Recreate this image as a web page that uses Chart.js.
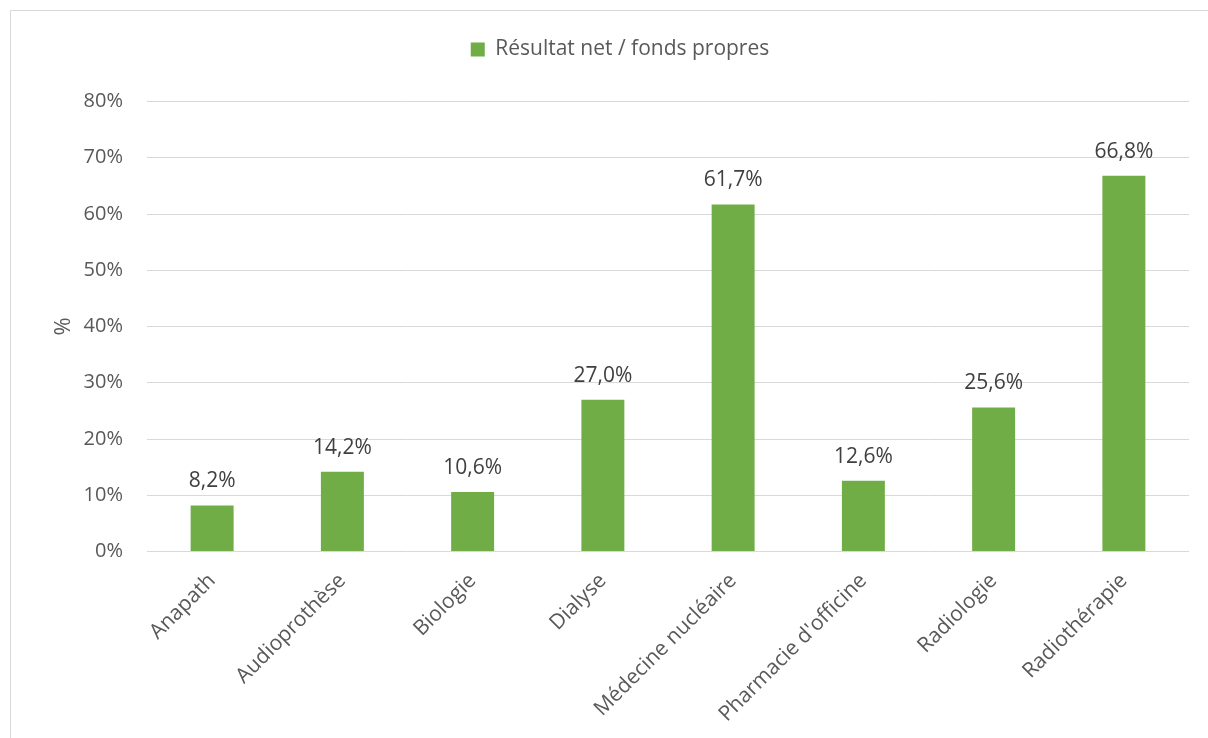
<!DOCTYPE html>
<html>
<head>
<meta charset="utf-8">
<script src="https://cdn.jsdelivr.net/npm/chart.js@4"></script>
<style>
  html, body { margin: 0; padding: 0; background: #fff; overflow: hidden; }
  #frame { position: absolute; left: 10px; top: 10px; width: 1400px; height: 900px; border: 1px solid #d9d9d9; }
  #wrap { position: absolute; left: 0; top: 0; width: 1208px; height: 738px; }
</style>
</head>
<body>
<div id="frame"></div>
<div id="wrap"><canvas id="chart"></canvas></div>
<script>
const categories = ['Anapath', 'Audioprothèse', 'Biologie', 'Dialyse', 'Médecine nucléaire', "Pharmacie d'officine", 'Radiologie', 'Radiothérapie'];
const resultatNet = [8.2, 14.2, 10.6, 27.0, 61.7, 12.6, 25.6, 66.8];
const yTicks = [0, 10, 20, 30, 40, 50, 60, 70, 80];
const seriesLabel = 'Résultat net / fonds propres';

const FONT = "'Open Sans', 'DejaVu Sans', sans-serif";
const fmtPct = v => v.toFixed(1).replace('.', ',') + '%';

// legend box taller than its content so the plot starts lower
const legendHeight = {
  id: 'legendHeight',
  beforeInit(chart) {
    const fit = chart.legend.fit;
    chart.legend.fit = function () {
      fit.bind(chart.legend)();
      this.height = 101.5;
    };
  }
};

const barLabels = {
  id: 'barLabels',
  afterDatasetsDraw(chart) {
    const ctx = chart.ctx;
    const meta = chart.getDatasetMeta(0);
    ctx.save();
    ctx.font = '21px ' + FONT;
    ctx.fillStyle = '#404040';
    ctx.textAlign = 'center';
    ctx.textBaseline = 'middle';
    meta.data.forEach((bar, i) => {
      ctx.fillText(fmtPct(resultatNet[i]), bar.x, bar.y - 24);
    });
    ctx.restore();
  }
};

new Chart(document.getElementById('chart'), {
  type: 'bar',
  data: {
    labels: categories,
    datasets: [{
      label: seriesLabel,
      data: resultatNet,
      backgroundColor: '#70ad47',
      borderWidth: 0,
      barPercentage: 0.33,
      categoryPercentage: 1
    }]
  },
  options: {
    responsive: true,
    maintainAspectRatio: false,
    animation: false,
    layout: { padding: { left: 51, right: 19, top: 0, bottom: 0 } },
    plugins: {
      legend: {
        position: 'top',
        labels: {
          color: '#595959',
          font: { family: FONT, size: 21 },
          boxWidth: 14,
          boxHeight: 14,
          padding: 39
        }
      },
      tooltip: { enabled: false }
    },
    scales: {
      x: {
        grid: { display: false },
        border: { display: false },
        ticks: {
          color: '#595959',
          font: { family: FONT, size: 21 },
          maxRotation: 45,
          minRotation: 45,
          padding: 9
        },
        afterFit: s => { s.height = 738 - 551.5; }
      },
      y: {
        min: 0,
        max: 80,
        afterBuildTicks: s => { s.ticks = yTicks.map(v => ({ value: v })); },
        grid: { color: '#d9d9d9', lineWidth: 1, drawTicks: false },
        border: { display: false },
        ticks: {
          color: '#595959',
          font: { family: FONT, size: 20 },
          padding: 24,
          callback: v => v + '%'
        },
        title: {
          display: true,
          text: '%',
          color: '#595959',
          font: { family: FONT, size: 22 },
          padding: { top: 0, bottom: 0 }
        },
        afterFit: s => { s.width = 96; }
      }
    }
  },
  plugins: [legendHeight, barLabels]
});
</script>
</body>
</html>
